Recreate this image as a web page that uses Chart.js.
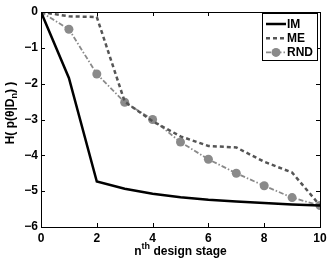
<!DOCTYPE html>
<html><head><meta charset="utf-8">
<script src="https://cdn.jsdelivr.net/npm/chart.js@4.4.0/dist/chart.umd.min.js"></script>
<style>html,body{margin:0;padding:0;background:#fff}#w{width:332px;height:260px}</style>
</head><body><div id="w"><canvas id="c" width="332" height="260"></canvas></div>
<script>
const stages = [0,1,2,3,4,5,6,7,8,9,10];
const imValues  = [0,-1.84,-4.73,-4.93,-5.07,-5.17,-5.24,-5.29,-5.33,-5.37,-5.40];
const meValues  = [0,-0.12,-0.14,-2.50,-3.05,-3.47,-3.74,-3.78,-4.18,-4.48,-5.40];
const rndValues = [0,-0.48,-1.73,-2.52,-3.00,-3.63,-4.11,-4.50,-4.85,-5.18,-5.40];
const xTicks = [0,2,4,6,8,10];
const yTicks = [-6,-5,-4,-3,-2,-1,0];
const seriesLabels = ['IM','ME','RND'];

const FAM = '"Liberation Sans", Arial, sans-serif';
const FONT = 'bold 12px ' + FAM;
const SMALL = 'bold 9px ' + FAM;
const pts = v => stages.map((s,i)=>({x:s,y:v[i]}));

const boxTicks = {
  id:'boxTicks',
  afterDraw(chart){
    const {ctx, chartArea:a, scales:{x,y}} = chart;
    ctx.save();
    ctx.strokeStyle='#000'; ctx.lineWidth=1;
    ctx.strokeRect(Math.round(a.left)+0.5, Math.round(a.top)+0.5, Math.round(a.right-a.left), Math.round(a.bottom-a.top));
    const L=4;
    ctx.beginPath();
    xTicks.forEach(t=>{const p=Math.round(x.getPixelForValue(t))+0.5;
      ctx.moveTo(p,a.bottom); ctx.lineTo(p,a.bottom-L);
      ctx.moveTo(p,a.top); ctx.lineTo(p,a.top+L);});
    yTicks.forEach(t=>{const p=Math.round(y.getPixelForValue(t))+0.5;
      ctx.moveTo(a.left,p); ctx.lineTo(a.left+L,p);
      ctx.moveTo(a.right,p); ctx.lineTo(a.right-L,p);});
    ctx.stroke();
    // axis titles
    ctx.fillStyle='#000';
    ctx.textBaseline='alphabetic'; ctx.textAlign='left';
    const p1='n', p2='th', p3=' design stage';
    ctx.font=FONT; const w1=ctx.measureText(p1).width, w3=ctx.measureText(p3).width;
    ctx.font=SMALL; const w2=ctx.measureText(p2).width;
    let sx=(a.left+a.right)/2-(w1+w2+w3)/2; const by=255;
    ctx.font=FONT; ctx.fillText(p1,sx,by); sx+=w1;
    ctx.font=SMALL; ctx.fillText(p2,sx,by-6); sx+=w2;
    ctx.font=FONT; ctx.fillText(p3,sx,by);
    ctx.translate(14,113);
    ctx.rotate(-Math.PI/2);
    const q1='H( p(θ|D', q2='n', q3=') )';
    ctx.font=FONT; const v1=ctx.measureText(q1).width, v3=ctx.measureText(q3).width;
    ctx.font=SMALL; const v2=ctx.measureText(q2).width;
    let tx=-(v1+v2+v3)/2;
    ctx.font=FONT; ctx.fillText(q1,tx,0); tx+=v1;
    ctx.font=SMALL; ctx.fillText(q2,tx,3); tx+=v2;
    ctx.font=FONT; ctx.fillText(q3,tx,0);
    ctx.restore();
    // legend
    ctx.save();
    const lx=262, ly=13, lw=55, lh=47;
    ctx.fillStyle='#fff'; ctx.fillRect(lx,ly,lw,lh);
    ctx.strokeStyle='#000'; ctx.lineWidth=1; ctx.strokeRect(lx+0.5,ly+0.5,lw,lh);
    chart.data.datasets.forEach((ds,i)=>{
      const yy=ly+11+i*14.2;
      ctx.strokeStyle=ds.borderColor; ctx.lineWidth=ds.borderWidth;
      ctx.setLineDash(ds.borderDash||[]);
      ctx.beginPath(); ctx.moveTo(lx+4,yy); ctx.lineTo(lx+24,yy); ctx.stroke();
      ctx.setLineDash([]);
      if(ds.pointRadius>0){ctx.fillStyle=ds.pointBackgroundColor; ctx.beginPath(); ctx.arc(lx+14,yy,ds.pointRadius,0,Math.PI*2); ctx.fill();}
      ctx.fillStyle='#000'; ctx.font=FONT; ctx.textAlign='left'; ctx.textBaseline='middle';
      ctx.fillText(ds.label,lx+25,yy+0.5);
    });
    ctx.restore();
  }
};

new Chart(document.getElementById('c'),{
  type:'line',
  data:{datasets:[
    {label:seriesLabels[0],data:pts(imValues),borderColor:'#000',borderWidth:2.5,pointRadius:0,tension:0},
    {label:seriesLabels[1],data:pts(meValues),borderColor:'#555',borderWidth:2.5,borderDash:[4,3],pointRadius:0,tension:0},
    {label:seriesLabels[2],data:pts(rndValues),borderColor:'#8a8a8a',borderWidth:1.8,borderDash:[5,2,1.5,2],pointRadius:4.5,pointBackgroundColor:'#8a8a8a',pointBorderWidth:0,tension:0}
  ]},
  options:{
    responsive:false,animation:false,
    layout:{padding:{top:12,right:12,left:0,bottom:0}},
    plugins:{legend:{display:false},tooltip:{enabled:false}},
    scales:{
      x:{type:'linear',min:0,max:10,
        afterFit:s=>{s.height=33;},
        afterBuildTicks:s=>{s.ticks=xTicks.map(v=>({value:v}));},
        grid:{display:false,drawTicks:false},border:{display:false},
        ticks:{color:'#000',font:{family:FAM,size:12,weight:'bold'},padding:4,maxRotation:0}},
      y:{type:'linear',min:-6,max:0,
        afterFit:s=>{s.width=41;},
        afterBuildTicks:s=>{s.ticks=yTicks.map(v=>({value:v}));},
        grid:{display:false,drawTicks:false},border:{display:false},
        ticks:{color:'#000',font:{family:FAM,size:12,weight:'bold'},padding:3,
          callback:v=>String(v).replace('-','\u2212')}}
    }
  },
  plugins:[boxTicks]
});
</script></body></html>
